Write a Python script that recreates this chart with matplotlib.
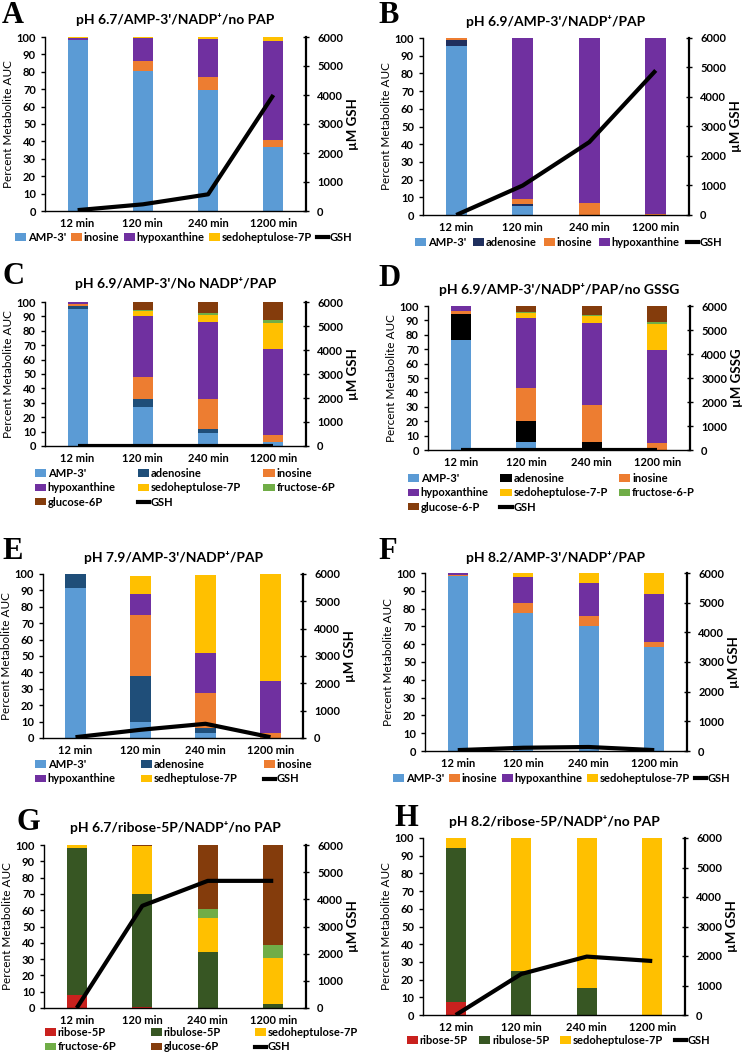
import matplotlib
matplotlib.use('Agg')
from matplotlib import pyplot as plt
from matplotlib.patches import Patch
from matplotlib.lines import Line2D

plt.rcParams['font.family'] = ['Lato', 'DejaVu Sans']
plt.rcParams['font.weight'] = 'bold'

W, H = 750, 1058

times = ['12 min', '120 min', '240 min', '1200 min']

# colours
c_amp = '#5B9BD5'
c_ado_b = '#1F2F5E'
c_ado = '#1F4E79'
c_ino = '#ED7D31'
c_hyp = '#7030A0'
c_sed = '#FFC000'
c_fru = '#70AD47'
c_glu = '#843C0C'
c_rib = '#C9211E'
c_ribu = '#375623'

# A  pH 6.7/AMP-3'/NADP+/no PAP
a_amp = [98.5, 80.5, 69.5, 36.5]
a_ino = [0.0, 5.8, 7.5, 4.5]
a_hyp = [1.2, 13.0, 22.0, 56.8]
a_sed = [0.3, 0.7, 1.0, 2.2]
a_gsh = [30, 230, 575, 4000]

# B  pH 6.9/AMP-3'/NADP+/PAP
b_amp = [95.3, 5.3, 0.0, 0.0]
b_ado = [3.4, 1.0, 0.0, 0.0]
b_ino = [1.3, 3.0, 6.6, 0.8]
b_hyp = [0.0, 90.7, 93.4, 99.2]
b_gsh = [0, 1000, 2470, 4900]

# C  pH 6.9/AMP-3'/No NADP+/PAP
c_amp_v = [95.0, 26.9, 9.0, 2.8]
c_ado_v = [2.5, 5.7, 2.8, 0.0]
c_ino_v = [1.0, 15.3, 20.8, 4.8]
c_hyp_v = [1.5, 42.6, 53.3, 60.0]
c_sed_v = [0.0, 3.3, 5.3, 18.0]
c_fru_v = [0.0, 0.6, 1.2, 1.7]
c_glu_v = [0.0, 5.6, 7.6, 12.7]
c_gsh = [10, 10, 10, 10]

# D  pH 6.9/AMP-3'/NADP+/PAP/no GSSG
d_amp = [76.7, 5.8, 0.0, 0.0]
d_ado = [18.0, 14.3, 5.5, 0.0]
d_ino = [1.8, 23.1, 25.5, 4.8]
d_hyp = [3.5, 48.5, 57.5, 64.5]
d_sed = [0.0, 3.5, 4.3, 18.2]
d_fru = [0.0, 0.3, 0.7, 1.2]
d_glu = [0.0, 4.5, 6.5, 11.3]
d_gssg = [10, 10, 10, 10]

# E  pH 7.9/AMP-3'/NADP+/PAP
e_amp = [91.3, 9.6, 3.3, 0.0]
e_ado = [8.7, 28.0, 2.6, 0.0]
e_ino = [0.0, 37.6, 21.5, 3.3]
e_hyp = [0.0, 12.6, 24.4, 31.7]
e_sed = [0.0, 11.0, 47.8, 65.0]
e_gsh = [30, 300, 520, 30]

# F  pH 8.2/AMP-3'/NADP+/PAP
f_amp = [98.1, 77.3, 70.5, 58.7]
f_ino = [0.6, 5.8, 5.3, 2.8]
f_hyp = [1.1, 14.5, 18.6, 26.7]
f_sed = [0.2, 2.4, 5.6, 11.8]
f_gsh = [30, 110, 135, 30]

# G  pH 6.7/ribose-5P/NADP+/no PAP
g_rib = [7.8, 0.8, 0.0, 0.0]
g_ribu = [90.2, 69.0, 34.5, 2.4]
g_sed = [2.0, 29.6, 21.0, 28.4]
g_fru = [0.0, 0.0, 5.3, 8.0]
g_glu = [0.0, 0.6, 39.2, 61.2]
g_gsh = [0, 3760, 4680, 4680]

# H  pH 8.2/ribose-5P/NADP+/no PAP
h_rib = [7.2, 0.0, 0.0, 0.0]
h_ribu = [87.1, 25.1, 15.1, 0.0]
h_sed = [5.7, 74.9, 84.9, 100.0]
h_gsh = [0, 1390, 1980, 1830]


def fx(px):
    return px / W


def fy(py):
    return 1 - py / H


def panel(fig, letter, lpos, title, rect, series, line, line_name, rlabel,
          leg_x0, leg_x1, leg_y, ncol, order):
    x0, y0, x1, y1 = rect
    ax = fig.add_axes([fx(x0), fy(y1), fx(x1) - fx(x0), (y1 - y0) / H])
    xs = list(range(len(times)))
    bottom = [0.0] * len(times)
    handles = []
    for name, vals, col in series:
        ax.bar(xs, vals, 0.31, bottom=bottom, color=col, edgecolor='none', zorder=2)
        bottom = [b + v for b, v in zip(bottom, vals)]
        handles.append(Patch(facecolor=col, label=name))
    ax.set_ylim(0, 100)
    ax.set_xlim(-0.5, 3.5)
    ax.set_yticks(range(0, 101, 10))
    ax.set_xticks(xs)
    ax.set_xticklabels(times)
    ax.tick_params(axis='both', labelsize=8, length=3, width=1)
    ax.tick_params(axis='x', length=0, pad=5)
    for s in ['top', 'right']:
        ax.spines[s].set_visible(False)
    ax.spines['left'].set_linewidth(1)
    ax.spines['bottom'].set_linewidth(1)
    ax.set_ylabel('Percent Metabolite AUC', fontsize=8.5, fontweight='normal', labelpad=2)

    ax2 = ax.twinx()
    ax2.plot(xs, line, color='black', lw=3, solid_capstyle='butt', zorder=5)
    ax2.set_ylim(0, 6000)
    ax2.set_yticks(range(0, 6001, 1000))
    ax2.tick_params(axis='y', labelsize=8, length=4, width=1, direction='inout', pad=6)
    for s in ['top', 'left', 'bottom']:
        ax2.spines[s].set_visible(False)
    ax2.spines['right'].set_linewidth(1.6)
    ax2.set_ylabel(rlabel, fontsize=9.5, fontweight='bold', rotation=90, labelpad=3)
    handles.append(Line2D([0], [0], color='black', lw=3, label=line_name))

    fig.text(fx((x0 + x1) / 2), fy(title[1]), title[0], fontsize=10,
             fontweight='bold', ha='center', va='center')
    fig.text(fx(lpos[0]), fy(lpos[1]), letter, fontsize=22, fontweight='bold',
             family='Liberation Serif', ha='left', va='top')

    hs = [handles[i] for i in order]
    fig.legend(handles=hs, loc='upper left', ncol=ncol, mode='expand',
               bbox_to_anchor=(fx(leg_x0), fy(leg_y), fx(leg_x1) - fx(leg_x0), 0.001),
               frameon=False, fontsize=8, handlelength=1.0, handleheight=0.6,
               handletextpad=0.15, columnspacing=0.5, borderaxespad=0,
               labelspacing=0.3, borderpad=0)


fig = plt.figure(figsize=(7.5, 10.58), dpi=100)

panel(fig, 'A', (2, 1), ("pH 6.7/AMP-3'/NADP\u207a/no PAP", 20), (45, 37, 306, 211),
      [("AMP-3'", a_amp, c_amp), ('inosine', a_ino, c_ino),
       ('hypoxanthine', a_hyp, c_hyp), ('sedoheptulose-7P', a_sed, c_sed)],
      a_gsh, 'GSH', '\u00b5M GSH', 15, 352, 233, 5, [0, 1, 2, 3, 4])

panel(fig, 'B', (378, 1), ("pH 6.9/AMP-3'/NADP\u207a/PAP", 22), (423, 38, 689, 215),
      [("AMP-3'", b_amp, c_amp), ('adenosine', b_ado, c_ado_b),
       ('inosine', b_ino, c_ino), ('hypoxanthine', b_hyp, c_hyp)],
      b_gsh, 'GSH', '\u00b5M GSH', 415, 722, 238, 5, [0, 1, 2, 3, 4])

panel(fig, 'C', (2, 262), ("pH 6.9/AMP-3'/No NADP\u207a/PAP", 283), (45, 302, 306, 446),
      [("AMP-3'", c_amp_v, c_amp), ('adenosine', c_ado_v, c_ado),
       ('inosine', c_ino_v, c_ino), ('hypoxanthine', c_hyp_v, c_hyp),
       ('sedoheptulose-7P', c_sed_v, c_sed), ('fructose-6P', c_fru_v, c_fru),
       ('glucose-6P', c_glu_v, c_glu)],
      c_gsh, 'GSH', '\u00b5M GSH', 35, 335, 469, 3, [0, 3, 6, 1, 4, 7, 2, 5])

panel(fig, 'D', (378, 264), ("pH 6.9/AMP-3'/NADP\u207a/PAP/no GSSG", 290), (428, 306, 690, 450),
      [("AMP-3'", d_amp, c_amp), ('adenosine', d_ado, 'black'),
       ('inosine', d_ino, c_ino), ('hypoxanthine', d_hyp, c_hyp),
       ('sedoheptulose-7-P', d_sed, c_sed), ('fructose-6-P', d_fru, c_fru),
       ('glucose-6-P', d_glu, c_glu)],
      d_gssg, 'GSH', '\u00b5M GSSG', 408, 695, 474, 3, [0, 3, 6, 1, 4, 7, 2, 5])

panel(fig, 'E', (2, 537), ("pH 7.9/AMP-3'/NADP\u207a/PAP", 558), (43, 574, 303, 738),
      [("AMP-3'", e_amp, c_amp), ('adenosine', e_ado, c_ado),
       ('inosine', e_ino, c_ino), ('hypoxanthine', e_hyp, c_hyp),
       ('sedheptulose-7P', e_sed, c_sed)],
      e_gsh, 'GSH', '\u00b5M GSH', 35, 312, 760, 3, [0, 3, 1, 4, 2, 5])

panel(fig, 'F', (378, 537), ("pH 8.2/AMP-3'/NADP\u207a/PAP", 557), (425, 573, 687, 751),
      [("AMP-3'", f_amp, c_amp), ('inosine', f_ino, c_ino),
       ('hypoxanthine', f_hyp, c_hyp), ('sedoheptulose-7P', f_sed, c_sed)],
      f_gsh, 'GSH', '\u00b5M GSH', 393, 730, 774, 5, [0, 1, 2, 3, 4])

panel(fig, 'G', (16, 808), ("pH 6.7/ribose-5P/NADP\u207a/no PAP", 828), (44, 845, 306, 1008),
      [('ribose-5P', g_rib, c_rib), ('ribulose-5P', g_ribu, c_ribu),
       ('sedoheptulose-7P', g_sed, c_sed), ('fructose-6P', g_fru, c_fru),
       ('glucose-6P', g_glu, c_glu)],
      g_gsh, 'GSH', '\u00b5M GSH', 45, 358, 1028, 3, [0, 3, 1, 4, 2, 5])

panel(fig, 'H', (395, 804), ("pH 8.2/ribose-5P/NADP\u207a/no PAP", 822), (423, 838, 685, 1015),
      [('ribose-5P', h_rib, c_rib), ('ribulose-5P', h_ribu, c_ribu),
       ('sedoheptulose-7P', h_sed, c_sed)],
      h_gsh, 'GSH', '\u00b5M GSH', 407, 710, 1036, 4, [0, 1, 2, 3])

fig.savefig('out.png', dpi=100)
